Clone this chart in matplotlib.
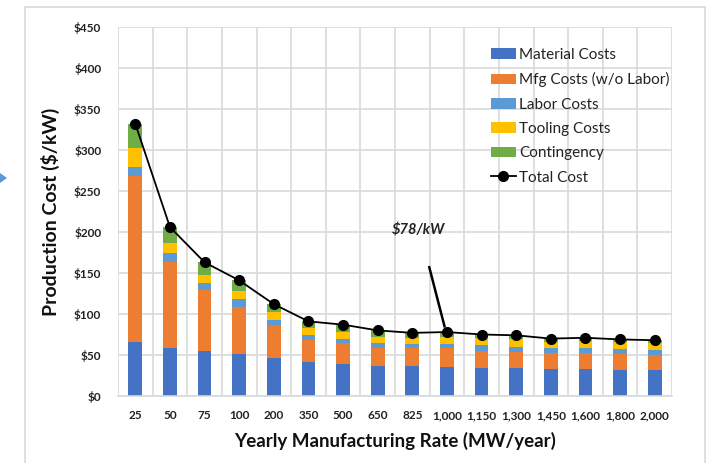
import numpy as np
import matplotlib
matplotlib.use("Agg")
import matplotlib.pyplot as plt
from matplotlib.patches import Patch, Polygon, Rectangle
from matplotlib.lines import Line2D

plt.rcParams['font.family'] = ['Lato', 'DejaVu Sans']

rates = ['25', '50', '75', '100', '200', '350', '500', '650', '825', '1,000',
         '1,150', '1,300', '1,450', '1,600', '1,800', '2,000']
material = [66, 59, 55, 51, 46, 42, 39, 37, 37, 35, 34, 34, 33, 33, 32, 32]
mfg = [202, 105, 74, 58, 40, 26, 26, 22, 21, 23, 21, 20, 19, 19, 19, 18]
labor = [11, 10, 9, 9, 7, 6, 5, 6, 5, 6, 7, 6, 6, 6, 6, 6]
tooling = [23, 12, 10, 10, 9, 9, 8, 7, 8, 8, 9, 9, 8, 9, 9, 9]
contingency = [30, 20, 15, 13, 10, 8, 9, 8, 6, 6, 4, 5, 4, 5, 3, 3]
total = [332, 206, 163, 141, 112, 91, 87, 80, 77, 78, 75, 74, 70, 71, 69, 68]

names = ['Material Costs', 'Mfg Costs (w/o Labor)', 'Labor Costs',
         'Tooling Costs', 'Contingency']
colors = ['#4472C4', '#ED7D31', '#5B9BD5', '#FFC000', '#70AD47']
series = [material, mfg, labor, tooling, contingency]

W, H = 707, 463
fig = plt.figure(figsize=(W / 100, H / 100), dpi=100)
ax = fig.add_axes([118 / W, 1 - 396 / H, (672 - 118) / W, (396 - 27) / H])

# outer chart frame (light gray) and the little blue arrow on the left
fig.add_artist(Rectangle((25 / W, -0.05), (705 - 25) / W, 1.05 - 7 / H,
                         transform=fig.transFigure, fill=False,
                         edgecolor='#D9D9D9', lw=1.2))
fig.add_artist(Polygon([(0, 1 - 173 / H), (7 / W, 1 - 178 / H), (0, 1 - 183 / H)],
                       closed=True, transform=fig.transFigure,
                       facecolor='#5B9BD5', edgecolor='none'))

x = np.arange(len(rates))
bottom = np.zeros(len(rates))
for vals, c, n in zip(series, colors, names):
    ax.bar(x, vals, width=0.4, bottom=bottom, color=c, label=n, zorder=2)
    bottom += np.array(vals)

ax.plot(x, total, color='black', lw=1.3, marker='o', markersize=7,
        label='Total Cost', zorder=3)

ax.set_xlim(-0.5, len(rates) - 0.5)
ax.set_ylim(0, 450)
ax.set_yticks(np.arange(0, 451, 50))
ax.set_yticklabels(['$%d' % v for v in range(0, 451, 50)])
ax.set_xticks(x)
ax.set_xticklabels(rates)
ax.set_xticks(np.arange(-0.5, len(rates)), minor=True)
ax.grid(axis='y', color='#D9D9D9', lw=1.2, zorder=0)
ax.grid(axis='x', which='minor', color='#D9D9D9', lw=1.2, zorder=0)
ax.set_axisbelow(True)
for s in ['top', 'right', 'left']:
    ax.spines[s].set_visible(False)
ax.spines['bottom'].set_color('#D9D9D9')
ax.spines['bottom'].set_linewidth(1.2)
ax.tick_params(axis='both', which='both', length=0, labelsize=8.5,
               colors='#222222')
ax.tick_params(axis='x', pad=10)
ax.tick_params(axis='y', pad=12)
for lbl in ax.get_xticklabels() + ax.get_yticklabels():
    lbl.set_fontweight('bold')

ax.set_ylabel('Production Cost ($/kW)', fontsize=14, fontweight='bold',
              color='#111111', labelpad=10)
ax.set_xlabel('Yearly Manufacturing Rate (MW/year)', fontsize=13.5,
              fontweight='bold', color='#111111', labelpad=8)

ax.annotate('$78/kW', xy=(8.93, 85), xytext=(8.17, 202),
            fontsize=10.5, fontweight='bold', fontstyle='italic',
            ha='center', va='center', color='#222222')
ax.plot([8.49, 8.93], [157, 85], color='black', lw=1.8, zorder=4)

handles = [Patch(facecolor=c) for c in colors]
handles.append(Line2D([], [], color='black', lw=1.3, marker='o', markersize=7))
leg = ax.legend(handles, names + ['Total Cost'], loc='upper left',
                bbox_to_anchor=(477 / W, 1 - 34 / H),
                bbox_transform=fig.transFigure, frameon=False,
                fontsize=11, handlelength=1.65, handleheight=0.7,
                handletextpad=0.2, labelspacing=0.68)
for t in leg.get_texts():
    t.set_color('#222222')

fig.savefig('out.png', dpi=100, facecolor='white')
